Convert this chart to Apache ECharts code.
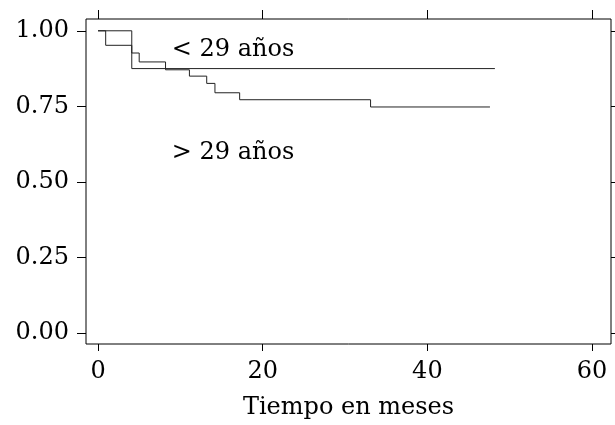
<!DOCTYPE html>
<html><head><meta charset="utf-8">
<script src="https://cdn.jsdelivr.net/npm/echarts@6/dist/echarts.min.js"></script>
<style>html,body{margin:0;padding:0;background:#fff}#c{width:615px;height:425px}</style>
</head><body><div id="c"></div>
<script>
const xTicks = [0, 20, 40, 60];
const yTicks = [0, 0.25, 0.5, 0.75, 1];
const timeUnder29 = [0, 4.1, 48.2];
const survUnder29 = [1, 0.875, 0.875];
const timeOver29 = [0, 0.93, 4.1, 5.0, 8.2, 11.1, 13.2, 14.2, 17.2, 33.1, 47.6];
const survOver29 = [1, 0.952, 0.9265, 0.897, 0.871, 0.850, 0.826, 0.795, 0.772, 0.748, 0.748];
const groupLabels = ['< 29 años', '> 29 años'];
const groupLabelX = [16.4, 16.4];
const groupLabelY = [0.9375, 0.598];
const xTitle = 'Tiempo en meses';

const FONT = 'DejaVu Serif';
const FS = 24;
const zip = (a, b) => a.map((v, i) => [v, b[i]]);
const chart = echarts.init(document.getElementById('c'), null, {renderer: 'canvas'});
const black = '#000';
const common = {type: 'value', splitLine: {show: false}, axisLine: {show: false, onZero: false}};
chart.setOption({
  animation: false,
  backgroundColor: '#fff',
  grid: {left: 86, right: 4, top: 19, bottom: 79, show: true, borderColor: black, borderWidth: 1, containLabel: false},
  xAxis: [
    Object.assign({}, common, {
      min: -1.46, max: 62.3, position: 'bottom',
      axisTick: {show: true, customValues: xTicks, length: 7, lineStyle: {color: black}},
      axisLabel: {customValues: xTicks, fontFamily: FONT, fontSize: FS, color: black, margin: 16},
      name: xTitle, nameLocation: 'middle', nameGap: 52,
      nameTextStyle: {fontFamily: FONT, fontSize: FS, color: black}
    }),
    Object.assign({}, common, {
      min: -1.46, max: 62.3, position: 'top',
      axisTick: {show: true, customValues: xTicks, length: 9, lineStyle: {color: black}},
      axisLabel: {show: false, customValues: xTicks}
    })
  ],
  yAxis: [
    Object.assign({}, common, {
      min: -0.036, max: 1.039, position: 'left',
      axisTick: {show: true, customValues: yTicks, length: 9, lineStyle: {color: black}},
      axisLabel: {customValues: yTicks, fontFamily: FONT, fontSize: FS, color: black, margin: 17,
        formatter: v => v.toFixed(2)}
    }),
    Object.assign({}, common, {
      min: -0.036, max: 1.039, position: 'right',
      axisTick: {show: true, customValues: yTicks, length: 6, lineStyle: {color: black}},
      axisLabel: {show: false, customValues: yTicks}
    })
  ],
  series: [
    {type: 'line', step: 'end', data: zip(timeUnder29, survUnder29), symbol: 'none',
     lineStyle: {color: '#222', width: 1}},
    {type: 'line', step: 'end', data: zip(timeOver29, survOver29), symbol: 'none',
     lineStyle: {color: '#222', width: 1}},
    {type: 'scatter', symbolSize: 0, itemStyle: {color: black},
     data: zip(groupLabelX, groupLabelY).map((p, i) => ({value: p, name: groupLabels[i]})),
     label: {show: true, position: 'inside', formatter: p => p.name, fontFamily: FONT, fontSize: FS,
       color: black, textBorderWidth: 0, opacity: 1},
     emphasis: {disabled: true}, silent: true}
  ]
});
</script></body></html>
